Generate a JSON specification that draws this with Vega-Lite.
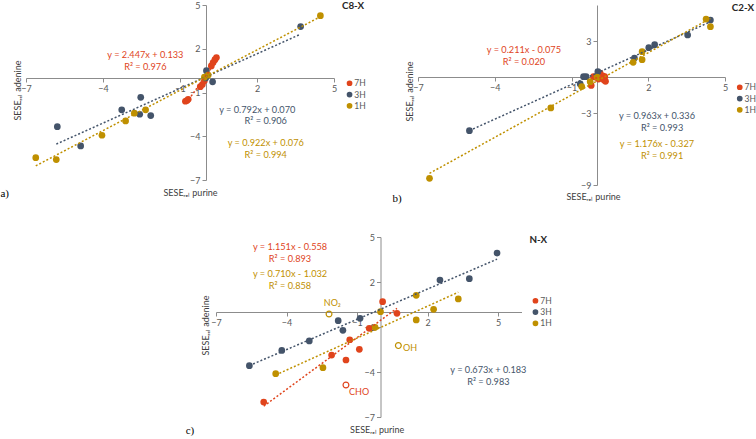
{
  "$schema": "https://vega.github.io/schema/vega-lite/v6.json",
  "padding": {"left": 0, "top": 0, "right": 0, "bottom": 0},
  "background": "white",
  "bounds": "flush",
  "columns": 2,
  "align": "all",
  "spacing": {"row": 52, "column": 84},
  "resolve": {"scale": {"x": "independent", "y": "independent", "color": "independent", "stroke": "independent"}, "legend": {"color": "independent"}},
  "config": {
    "view": {"stroke": null},
    "font": "Lato",
    "axis": {"grid": false, "domainColor": "#8c8c8c", "tickColor": "#8c8c8c", "tickSize": 4, "labelColor": "#595959", "labelFont": "Lato", "labelFontSize": 9, "labelPadding": 2, "labelFlush": false, "labelOverlap": false, "titleColor": "#404040", "titleFont": "Lato", "titleFontSize": 9, "titleFontWeight": "normal"},
    "legend": {"padding": 0, "symbolSize": 18, "symbolType": "circle", "labelFontSize": 8.5, "labelColor": "#595959", "labelFont": "Lato", "rowPadding": 0.3, "labelOffset": 0.5}
  },
  "concat": [
    {
      "width": 308,
      "height": 175,
      "layer": [
        {
          "data": {"values": [
            {"series": "7H", "x": -0.79, "y": -1.6}, {"series": "7H", "x": -0.73, "y": -1.55}, {"series": "7H", "x": -0.68, "y": -1.47},
            {"series": "7H", "x": -0.21, "y": -0.6}, {"series": "7H", "x": -0.13, "y": -0.45}, {"series": "7H", "x": -0.05, "y": -0.2},
            {"series": "7H", "x": 0.22, "y": 0.82}, {"series": "7H", "x": 0.29, "y": 1.05}, {"series": "7H", "x": 0.36, "y": 1.25}, {"series": "7H", "x": 0.42, "y": 1.4},
            {"series": "3H", "x": -5.78, "y": -3.34}, {"series": "3H", "x": -4.87, "y": -4.66}, {"series": "3H", "x": -3.27, "y": -2.19},
            {"series": "3H", "x": -2.53, "y": -1.33}, {"series": "3H", "x": -2.57, "y": -2.49}, {"series": "3H", "x": -2.14, "y": -2.58},
            {"series": "3H", "x": 0.0, "y": 0.0}, {"series": "3H", "x": 0.03, "y": 0.5}, {"series": "3H", "x": 0.27, "y": -0.27}, {"series": "3H", "x": 3.7, "y": 3.52},
            {"series": "1H", "x": -6.62, "y": -5.47}, {"series": "1H", "x": -5.82, "y": -5.6}, {"series": "1H", "x": -4.04, "y": -3.93},
            {"series": "1H", "x": -3.12, "y": -2.95}, {"series": "1H", "x": -2.78, "y": -2.42}, {"series": "1H", "x": -2.34, "y": -2.19},
            {"series": "1H", "x": -0.05, "y": 0.05}, {"series": "1H", "x": 0.1, "y": 0.2}, {"series": "1H", "x": 4.47, "y": 4.27}
          ]},
          "mark": {"type": "circle", "size": 45, "opacity": 1},
          "encoding": {
            "x": {"field": "x", "type": "quantitative", "scale": {"domain": [-7, 5], "nice": false, "zero": false},
                  "axis": {"values": [-7, -4, -1, 2, 5], "offset": -102, "title": "SESEᵣₑₗ purine", "titleX": 164, "titleY": 114, "titleAlign": "center", "titleBaseline": "middle"}},
            "y": {"field": "y", "type": "quantitative", "scale": {"domain": [-7, 5], "nice": false, "zero": false},
                  "axis": {"values": [5, 2, -1, -4, -7], "offset": -180, "title": "SESEᵣₑₗ adenine", "titleX": -189, "titleY": 85, "titleAlign": "center", "titleBaseline": "middle", "titleAngle": -90}},
            "color": {"field": "series", "type": "nominal", "scale": {"domain": ["7H", "3H", "1H"], "range": ["#E0441C", "#44546A", "#BF9000"]},
                      "legend": {"orient": "none", "legendX": 319.3, "legendY": 74, "title": null}}
          }
        },
        {
          "data": {"values": [
            {"series": "7H", "x": -0.75, "y": -1.702}, {"series": "7H", "x": 0.43, "y": 1.185},
            {"series": "3H", "x": -5.82, "y": -4.539}, {"series": "3H", "x": 3.7, "y": 3.0},
            {"series": "1H", "x": -6.62, "y": -6.028}, {"series": "1H", "x": 4.48, "y": 4.207}
          ]},
          "mark": {"type": "line", "strokeDash": [2, 2], "strokeWidth": 1.5},
          "encoding": {
            "x": {"field": "x", "type": "quantitative"},
            "y": {"field": "y", "type": "quantitative"},
            "stroke": {"field": "series", "type": "nominal", "scale": {"domain": ["7H", "3H", "1H"], "range": ["#E0441C", "#44546A", "#BF9000"]}, "legend": null}
          }
        },
        {"data": {"values": [{"t": "y = 2.447x + 0.133"}]}, "mark": {"type": "text", "fontSize": 9.2, "color": "#E0441C"}, "encoding": {"x": {"datum": -2.35, "type": "quantitative"}, "y": {"datum": 1.58, "type": "quantitative"}, "text": {"field": "t"}}},
        {"data": {"values": [{"t": "R² = 0.976"}]}, "mark": {"type": "text", "fontSize": 9.2, "color": "#E0441C"}, "encoding": {"x": {"datum": -2.35, "type": "quantitative"}, "y": {"datum": 0.78, "type": "quantitative"}, "text": {"field": "t"}}},
        {"data": {"values": [{"t": "y = 0.792x + 0.070"}]}, "mark": {"type": "text", "fontSize": 9.2, "color": "#44546A"}, "encoding": {"x": {"datum": 2.01, "type": "quantitative"}, "y": {"datum": -2.19, "type": "quantitative"}, "text": {"field": "t"}}},
        {"data": {"values": [{"t": "R² = 0.906"}]}, "mark": {"type": "text", "fontSize": 9.2, "color": "#44546A"}, "encoding": {"x": {"datum": 2.34, "type": "quantitative"}, "y": {"datum": -2.97, "type": "quantitative"}, "text": {"field": "t"}}},
        {"data": {"values": [{"t": "y = 0.922x + 0.076"}]}, "mark": {"type": "text", "fontSize": 9.2, "color": "#BF9000"}, "encoding": {"x": {"datum": 2.34, "type": "quantitative"}, "y": {"datum": -4.44, "type": "quantitative"}, "text": {"field": "t"}}},
        {"data": {"values": [{"t": "R² = 0.994"}]}, "mark": {"type": "text", "fontSize": 9.2, "color": "#BF9000"}, "encoding": {"x": {"datum": 2.34, "type": "quantitative"}, "y": {"datum": -5.28, "type": "quantitative"}, "text": {"field": "t"}}},
        {"data": {"values": [{"t": "C8-X"}]}, "mark": {"type": "text", "fontSize": 9.8, "fontWeight": "bold", "color": "#262626"}, "encoding": {"x": {"datum": 5.74, "type": "quantitative"}, "y": {"datum": 4.94, "type": "quantitative"}, "text": {"field": "t"}}},
        {"data": {"values": [{"t": "a)"}]}, "mark": {"type": "text", "fontSize": 11, "font": "Liberation Serif", "color": "#000000"}, "encoding": {"x": {"datum": -7.83, "type": "quantitative"}, "y": {"datum": -7.98, "type": "quantitative"}, "text": {"field": "t"}}}
      ]
    },
    {
      "width": 307,
      "height": 180,
      "layer": [
        {
          "data": {"values": [
            {"series": "7H", "x": -0.23, "y": -0.7}, {"series": "7H", "x": -0.14, "y": 0.03}, {"series": "7H", "x": -0.04, "y": -0.03},
            {"series": "7H", "x": 0.06, "y": -0.17}, {"series": "7H", "x": 0.12, "y": 0.33}, {"series": "7H", "x": 0.22, "y": 0.1},
            {"series": "7H", "x": 0.3, "y": 0.03}, {"series": "7H", "x": 0.33, "y": -0.36}, {"series": "7H", "x": 0.27, "y": -0.25},
            {"series": "3H", "x": -4.99, "y": -4.47}, {"series": "3H", "x": -0.66, "y": -0.58}, {"series": "3H", "x": -0.53, "y": 0.03},
            {"series": "3H", "x": -0.43, "y": 0.03}, {"series": "3H", "x": 0.03, "y": 0.44}, {"series": "3H", "x": 1.46, "y": 1.58},
            {"series": "3H", "x": 2.02, "y": 2.44}, {"series": "3H", "x": 2.25, "y": 2.69}, {"series": "3H", "x": 3.54, "y": 3.5}, {"series": "3H", "x": 4.43, "y": 4.75},
            {"series": "1H", "x": -6.55, "y": -8.44}, {"series": "1H", "x": -1.81, "y": -2.58}, {"series": "1H", "x": -0.6, "y": -0.8},
            {"series": "1H", "x": -0.27, "y": -0.39}, {"series": "1H", "x": 0.0, "y": 0.0}, {"series": "1H", "x": 1.41, "y": 1.22},
            {"series": "1H", "x": 1.76, "y": 1.44}, {"series": "1H", "x": 1.76, "y": 2.11}, {"series": "1H", "x": 4.26, "y": 4.83}, {"series": "1H", "x": 4.43, "y": 4.19}
          ]},
          "mark": {"type": "circle", "size": 45, "opacity": 1},
          "encoding": {
            "x": {"field": "x", "type": "quantitative", "scale": {"domain": [-7, 5], "nice": false, "zero": false},
                  "axis": {"values": [-7, -4, -1, 2, 5], "offset": -108, "title": "SESEᵣₑₗ purine", "titleX": 175, "titleY": 119, "titleAlign": "center", "titleBaseline": "middle"}},
            "y": {"field": "y", "type": "quantitative", "scale": {"domain": [-9, 6], "nice": false, "zero": false},
                  "axis": {"values": [6, 3, 0, -3, -6, -9], "offset": -179, "title": "SESEᵣₑₗ adenine", "titleX": -188, "titleY": 86, "titleAlign": "center", "titleBaseline": "middle", "titleAngle": -90}},
            "color": {"field": "series", "type": "nominal", "scale": {"domain": ["7H", "3H", "1H"], "range": ["#E0441C", "#44546A", "#BF9000"]},
                      "legend": {"orient": "none", "legendX": 317.5, "legendY": 78, "title": null}}
          }
        },
        {
          "data": {"values": [
            {"series": "7H", "x": -0.23, "y": -0.124}, {"series": "7H", "x": 0.33, "y": -0.005},
            {"series": "3H", "x": -4.99, "y": -4.469}, {"series": "3H", "x": 4.43, "y": 4.602},
            {"series": "1H", "x": -6.55, "y": -8.03}, {"series": "1H", "x": 4.43, "y": 4.883}
          ]},
          "mark": {"type": "line", "strokeDash": [2, 2], "strokeWidth": 1.5},
          "encoding": {
            "x": {"field": "x", "type": "quantitative"},
            "y": {"field": "y", "type": "quantitative"},
            "stroke": {"field": "series", "type": "nominal", "scale": {"domain": ["7H", "3H", "1H"], "range": ["#E0441C", "#44546A", "#BF9000"]}, "legend": null}
          }
        },
        {"data": {"values": [{"t": "y = 0.211x - 0.075"}]}, "mark": {"type": "text", "fontSize": 9.2, "color": "#E0441C"}, "encoding": {"x": {"datum": -2.86, "type": "quantitative"}, "y": {"datum": 2.25, "type": "quantitative"}, "text": {"field": "t"}}},
        {"data": {"values": [{"t": "R² = 0.020"}]}, "mark": {"type": "text", "fontSize": 9.2, "color": "#E0441C"}, "encoding": {"x": {"datum": -2.86, "type": "quantitative"}, "y": {"datum": 1.28, "type": "quantitative"}, "text": {"field": "t"}}},
        {"data": {"values": [{"t": "y = 0.963x + 0.336"}]}, "mark": {"type": "text", "fontSize": 9.2, "color": "#44546A"}, "encoding": {"x": {"datum": 2.34, "type": "quantitative"}, "y": {"datum": -3.25, "type": "quantitative"}, "text": {"field": "t"}}},
        {"data": {"values": [{"t": "R² = 0.993"}]}, "mark": {"type": "text", "fontSize": 9.2, "color": "#44546A"}, "encoding": {"x": {"datum": 2.54, "type": "quantitative"}, "y": {"datum": -4.22, "type": "quantitative"}, "text": {"field": "t"}}},
        {"data": {"values": [{"t": "y = 1.176x - 0.327"}]}, "mark": {"type": "text", "fontSize": 9.2, "color": "#BF9000"}, "encoding": {"x": {"datum": 2.34, "type": "quantitative"}, "y": {"datum": -5.61, "type": "quantitative"}, "text": {"field": "t"}}},
        {"data": {"values": [{"t": "R² = 0.991"}]}, "mark": {"type": "text", "fontSize": 9.2, "color": "#BF9000"}, "encoding": {"x": {"datum": 2.54, "type": "quantitative"}, "y": {"datum": -6.61, "type": "quantitative"}, "text": {"field": "t"}}},
        {"data": {"values": [{"t": "C2-X"}]}, "mark": {"type": "text", "fontSize": 9.8, "fontWeight": "bold", "color": "#262626"}, "encoding": {"x": {"datum": 5.7, "type": "quantitative"}, "y": {"datum": 5.73, "type": "quantitative"}, "text": {"field": "t"}}},
        {"data": {"values": [{"t": "b)"}]}, "mark": {"type": "text", "fontSize": 11, "font": "Liberation Serif", "color": "#000000"}, "encoding": {"x": {"datum": -7.82, "type": "quantitative"}, "y": {"datum": -10.17, "type": "quantitative"}, "text": {"field": "t"}}}
      ]
    },
    {
      "width": 308,
      "height": 180,
      "layer": [
        {
          "data": {"values": [
            {"series": "7H", "x": -4.97, "y": -6.0}, {"series": "7H", "x": -2.08, "y": -2.87}, {"series": "7H", "x": -1.47, "y": -3.2},
            {"series": "7H", "x": -1.31, "y": -1.85}, {"series": "7H", "x": -0.9, "y": -2.49}, {"series": "7H", "x": -0.48, "y": -1.09},
            {"series": "7H", "x": 0.09, "y": 0.69}, {"series": "7H", "x": 0.7, "y": -0.09},
            {"series": "3H", "x": -5.58, "y": -3.58}, {"series": "3H", "x": -4.2, "y": -2.56}, {"series": "3H", "x": -3.03, "y": -1.93},
            {"series": "3H", "x": -1.8, "y": -0.58}, {"series": "3H", "x": -1.6, "y": -1.22}, {"series": "3H", "x": -0.87, "y": -0.42},
            {"series": "3H", "x": 2.53, "y": 2.13}, {"series": "3H", "x": 3.78, "y": 2.22}, {"series": "3H", "x": 4.96, "y": 3.93},
            {"series": "1H", "x": -4.46, "y": -4.11}, {"series": "1H", "x": -2.45, "y": -3.71}, {"series": "1H", "x": -0.23, "y": -1.02},
            {"series": "1H", "x": 0.0, "y": 0.02}, {"series": "1H", "x": 1.52, "y": 1.11}, {"series": "1H", "x": 1.52, "y": -0.53},
            {"series": "1H", "x": 2.26, "y": 0.18}, {"series": "1H", "x": 3.31, "y": 0.87}
          ]},
          "mark": {"type": "circle", "size": 45, "opacity": 1},
          "encoding": {
            "x": {"field": "x", "type": "quantitative", "scale": {"domain": [-7, 6], "range": [190, 495.5], "nice": false, "zero": false},
                  "axis": {"values": [-7, -4, -1, 2, 5], "offset": -105, "title": "SESEᵣₑₗ purine", "titleX": 350.7, "titleY": 117, "titleAlign": "center", "titleBaseline": "middle"}},
            "y": {"field": "y", "type": "quantitative", "scale": {"domain": [-7, 5], "nice": false, "zero": false},
                  "axis": {"values": [5, 2, -1, -4, -7], "offset": -354.5, "title": "SESEᵣₑₗ adenine", "titleX": -175.5, "titleY": 88, "titleAlign": "center", "titleBaseline": "middle", "titleAngle": -90}},
            "color": {"field": "series", "type": "nominal", "scale": {"domain": ["7H", "3H", "1H"], "range": ["#E0441C", "#44546A", "#BF9000"]},
                      "legend": {"orient": "none", "legendX": 505.2, "legendY": 59.5, "title": null}}
          }
        },
        {
          "data": {"values": [
            {"series": "7H", "x": -1.47, "y": -4.87, "label": "CHO"},
            {"series": "1H", "x": -2.19, "y": -0.13, "label": "NO₂"},
            {"series": "1H", "x": 0.76, "y": -2.24, "label": "OH"}
          ]},
          "mark": {"type": "point", "shape": "circle", "filled": false, "size": 34, "strokeWidth": 1.2, "opacity": 1},
          "encoding": {
            "x": {"field": "x", "type": "quantitative"},
            "y": {"field": "y", "type": "quantitative"},
            "stroke": {"field": "series", "type": "nominal", "scale": {"domain": ["7H", "3H", "1H"], "range": ["#E0441C", "#44546A", "#BF9000"]}, "legend": null}
          }
        },
        {
          "data": {"values": [
            {"series": "7H", "x": -4.97, "y": -6.278}, {"series": "7H", "x": 0.7, "y": 0.248},
            {"series": "3H", "x": -5.58, "y": -3.572}, {"series": "3H", "x": 4.96, "y": 3.521},
            {"series": "1H", "x": -4.46, "y": -4.199}, {"series": "1H", "x": 3.31, "y": 1.318}
          ]},
          "mark": {"type": "line", "strokeDash": [2, 2], "strokeWidth": 1.5},
          "encoding": {
            "x": {"field": "x", "type": "quantitative"},
            "y": {"field": "y", "type": "quantitative"},
            "stroke": {"field": "series", "type": "nominal", "scale": {"domain": ["7H", "3H", "1H"], "range": ["#E0441C", "#44546A", "#BF9000"]}, "legend": null}
          }
        },
        {"data": {"values": [{"t": "y = 1.151x - 0.558"}]}, "mark": {"type": "text", "fontSize": 9.2, "color": "#E0441C"}, "encoding": {"x": {"datum": -3.85, "type": "quantitative"}, "y": {"datum": 4.31, "type": "quantitative"}, "text": {"field": "t"}}},
        {"data": {"values": [{"t": "R² = 0.893"}]}, "mark": {"type": "text", "fontSize": 9.2, "color": "#E0441C"}, "encoding": {"x": {"datum": -3.85, "type": "quantitative"}, "y": {"datum": 3.51, "type": "quantitative"}, "text": {"field": "t"}}},
        {"data": {"values": [{"t": "y = 0.710x - 1.032"}]}, "mark": {"type": "text", "fontSize": 9.2, "color": "#BF9000"}, "encoding": {"x": {"datum": -3.85, "type": "quantitative"}, "y": {"datum": 2.51, "type": "quantitative"}, "text": {"field": "t"}}},
        {"data": {"values": [{"t": "R² = 0.858"}]}, "mark": {"type": "text", "fontSize": 9.2, "color": "#BF9000"}, "encoding": {"x": {"datum": -3.85, "type": "quantitative"}, "y": {"datum": 1.73, "type": "quantitative"}, "text": {"field": "t"}}},
        {"data": {"values": [{"t": "y = 0.673x + 0.183"}]}, "mark": {"type": "text", "fontSize": 9.2, "color": "#44546A"}, "encoding": {"x": {"datum": 4.59, "type": "quantitative"}, "y": {"datum": -3.87, "type": "quantitative"}, "text": {"field": "t"}}},
        {"data": {"values": [{"t": "R² = 0.983"}]}, "mark": {"type": "text", "fontSize": 9.2, "color": "#44546A"}, "encoding": {"x": {"datum": 4.59, "type": "quantitative"}, "y": {"datum": -4.69, "type": "quantitative"}, "text": {"field": "t"}}},
        {"data": {"values": [{"t": "NO₂"}]}, "mark": {"type": "text", "fontSize": 9, "color": "#BF9000"}, "encoding": {"x": {"datum": -2.05, "type": "quantitative"}, "y": {"datum": 0.62, "type": "quantitative"}, "text": {"field": "t"}}},
        {"data": {"values": [{"t": "OH"}]}, "mark": {"type": "text", "fontSize": 9, "color": "#BF9000"}, "encoding": {"x": {"datum": 1.26, "type": "quantitative"}, "y": {"datum": -2.38, "type": "quantitative"}, "text": {"field": "t"}}},
        {"data": {"values": [{"t": "CHO"}]}, "mark": {"type": "text", "fontSize": 9, "color": "#E0441C"}, "encoding": {"x": {"datum": -0.91, "type": "quantitative"}, "y": {"datum": -5.35, "type": "quantitative"}, "text": {"field": "t"}}},
        {"data": {"values": [{"t": "N-X"}]}, "mark": {"type": "text", "fontSize": 9.8, "fontWeight": "bold", "color": "#262626"}, "encoding": {"x": {"datum": 6.71, "type": "quantitative"}, "y": {"datum": 4.8, "type": "quantitative"}, "text": {"field": "t"}}},
        {"data": {"values": [{"t": "c)"}]}, "mark": {"type": "text", "fontSize": 11, "font": "Liberation Serif", "color": "#000000"}, "encoding": {"x": {"datum": -8.11, "type": "quantitative"}, "y": {"datum": -7.91, "type": "quantitative"}, "text": {"field": "t"}}}
      ]
    }
  ]
}
